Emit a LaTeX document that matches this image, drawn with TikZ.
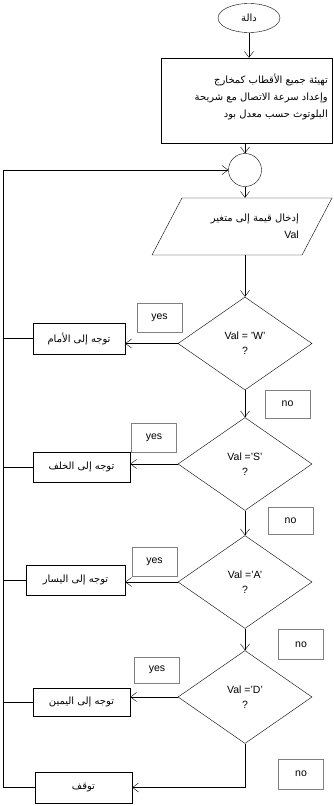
\documentclass[tikz,border=0pt]{standalone}
\usepackage{fontspec}
\setmainfont{Liberation Sans}
\newfontfamily\arabicfont[Script=Arabic,Scale=0.95]{DejaVu Sans}
\TeXXeTstate=1
\usetikzlibrary{shapes.geometric, arrows.meta}

\newcommand{\txtar}[1]{{\arabicfont\beginR #1\endR}}

\begin{document}
\begin{tikzpicture}[x=1pt, y=-1pt, font=\fontsize{10.5}{15}\selectfont,
    caixa/.style={draw, rectangle, minimum width=97pt, minimum height=30pt, inner sep=2pt},
    rotulo/.style={draw=black!50, rectangle, minimum width=45pt, minimum height=29pt, inner sep=0pt},
    losango/.style={draw, diamond, minimum width=134pt, minimum height=93pt, inner sep=0pt, align=center},
    seta/.style={-{Straight Barb[length=6pt,width=9pt]}}]
    \useasboundingbox (0,0) rectangle (334,806);

    % inicio e preparacao
    \node[draw, ellipse, minimum width=62pt, minimum height=29pt, inner sep=0pt] (inicio) at (249,18) {\txtar{دالة}};
    \node[draw, rectangle, minimum width=171pt, minimum height=85pt] (prep) at (246.5,100.5) {};
    \node[anchor=east, align=right, inner sep=0pt, font=\fontsize{10.5}{17}\selectfont] (txtprep) at (328,97)
        {\txtar{تهيئة جميع الأقطاب كمخارج}\\ \txtar{وإعداد سرعة الاتصال مع شريحة}\\ \txtar{البلوتوث حسب معدل بود}};
    \draw[seta] (inicio.south) -- (inicio.south |- prep.north);

    % conector e entrada
    \node[draw, circle, minimum size=33pt, inner sep=0pt] (conector) at (245,170) {};
    \draw[seta] (conector |- prep.south) -- (conector.north);
    \node[draw, trapezium, trapezium left angle=76, trapezium right angle=104, trapezium stretches,
          minimum width=180pt, minimum height=57pt, inner sep=2pt] (entrada) at (242,226.5) {};
    \node[anchor=east, align=right, inner sep=0pt, font=\fontsize{10.5}{17}\selectfont] (txtentrada) at (299,226)
        {\txtar{إدخال قيمة إلى متغير}\\ Val};
    \draw[seta] (conector.south) -- (conector |- entrada.north);

    % decisoes
    \node[losango] (dw) at (245,343.5) {Val = 'W'\\ ?};
    \node[losango] (ds) at (245,464) {Val ='S'\\ ?};
    \node[losango] (da) at (245,582) {Val ='A'\\ ?};
    \node[losango] (dd) at (245,697) {Val ='D'\\ ?};
    \draw[seta] (dw |- entrada.south) -- (dw.north);
    \draw[seta] (dw.south) -- (ds.north);
    \draw[seta] (ds.south) -- (da.north);
    \draw[seta] (da.south) -- (dd.north);

    % acoes
    \node[caixa, minimum width=92pt, minimum height=31pt] (frente) at (79,338.5) {\txtar{توجه إلى الأمام}};
    \node[caixa] (tras) at (81.5,467) {\txtar{توجه إلى الخلف}};
    \node[caixa, minimum width=99pt] (esquerda) at (75.5,580) {\txtar{توجه إلى اليسار}};
    \node[caixa, minimum height=28pt] (direita) at (81.5,702) {\txtar{توجه إلى اليمين}};
    \node[caixa, minimum height=31pt] (parar) at (83.5,787.5) {\txtar{توقف}};
    \draw[seta] (dw.west) -- (dw.west -| frente.east);
    \draw[seta] (ds.west) -- (ds.west -| tras.east);
    \draw[seta] (da.west) -- (da.west -| esquerda.east);
    \draw[seta] (dd.west) -- (dd.west -| direita.east);
    \draw[seta] (dd.south) |- (parar.east);

    % rotulos yes / no
    \node[rotulo] (sim1) at (159.5,318) {yes};
    \node[rotulo] (sim2) at (154,438) {yes};
    \node[rotulo] (sim3) at (154.5,561.5) {yes};
    \node[rotulo, minimum height=26pt] (sim4) at (157,670) {yes};
    \node[rotulo, minimum height=28pt] (nao1) at (287.5,404) {no};
    \node[rotulo, minimum height=27pt] (nao2) at (290.5,521) {no};
    \node[rotulo, minimum height=30pt] (nao3) at (301,644.5) {no};
    \node[rotulo, minimum height=30pt] (nao4) at (301,774) {no};

    % retorno ao conector
    \coordinate (topo) at (3,170);
    \draw[seta] (parar.west) -| (topo) -- (conector.west);
    \draw (frente.west) -- (frente.west -| topo);
    \draw (tras.west) -- (tras.west -| topo);
    \draw (esquerda.west) -- (esquerda.west -| topo);
    \draw (direita.west) -- (direita.west -| topo);
\end{tikzpicture}
\end{document}
